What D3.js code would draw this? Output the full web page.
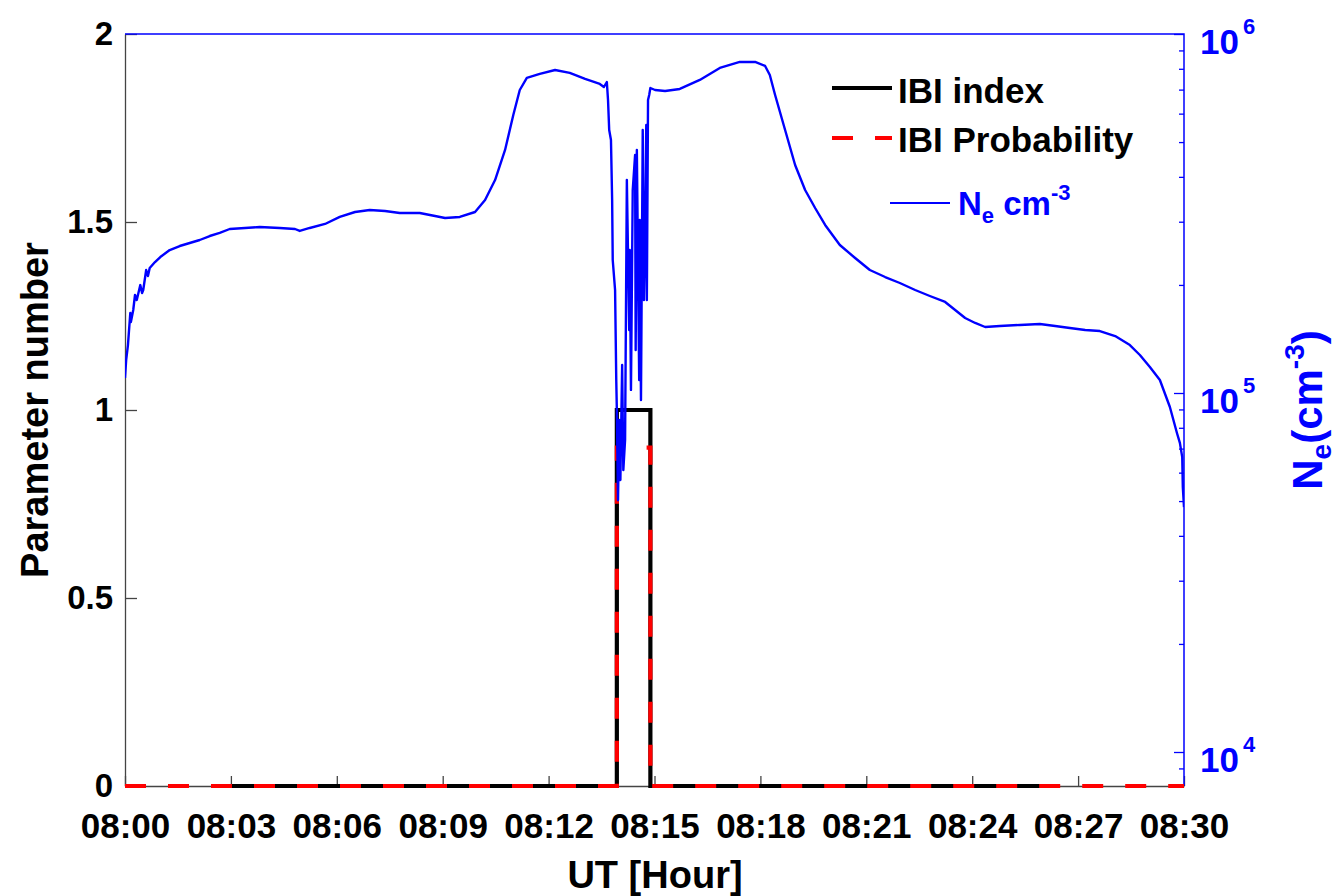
<!DOCTYPE html>
<html>
<head>
<meta charset="utf-8">
<script src="https://cdn.jsdelivr.net/npm/d3@7/dist/d3.min.js"></script>
<style>
  html, body { margin: 0; padding: 0; background: #fff; }
  svg { display: block; font-family: "Liberation Sans", Arial, sans-serif; font-weight: bold; }
</style>
</head>
<body>
<svg id="chart" width="1341" height="896"></svg>
<script>
// ---- data -------------------------------------------------------------
// time axis: seconds after 08:00 UT
const xTickLabels = ["08:00","08:03","08:06","08:09","08:12","08:15","08:18","08:21","08:24","08:27","08:30"];
const leftTicks = [0, 0.5, 1, 1.5, 2];
const rightMajorTicks = [1e4, 1e5, 1e6];

// IBI index (0/1 flag)
const ibiSeconds = [180, 836, 836, 893, 893, 1560];
const ibiValues  = [0,   0,   1,   1,   0,   0];

// IBI probability
const probSeconds = [0, 836, 836, 893, 893, 1800];
const probValues  = [0, 0,   0.9, 0.9, 0,   0];

// electron density Ne (cm^-3)
const neSeconds = [
  0, 2, 5, 9, 10, 14, 17, 20, 26, 29, 31, 36, 39, 42, 51, 60, 76, 93, 110, 127,
  144, 161, 178, 204, 229, 263, 289, 297, 314, 340, 365, 391, 416, 442, 467, 501,
  527, 544, 569, 595, 612, 629, 646, 660, 671, 683, 705, 731, 756, 782, 807, 814,
  819, 821, 823, 826, 828, 829, 833, 835, 836, 838, 840, 842, 845, 847, 850, 853,
  857, 858, 860, 863, 867, 868, 870, 874, 875, 877, 880, 882, 884, 886, 887, 889,
  891, 893, 901, 918, 943, 977, 1011, 1045, 1071, 1088, 1096, 1105, 1122, 1139,
  1156, 1173, 1190, 1215, 1241, 1266, 1292, 1317, 1343, 1368, 1394, 1411, 1428,
  1445, 1462, 1487, 1521, 1555, 1581, 1606, 1632, 1657, 1683, 1708, 1725, 1742,
  1759, 1776, 1788, 1793, 1797, 1798, 1800
];
const neValues = [
  110100, 123600, 136000, 167000, 157700, 170300, 187500, 181600, 199800, 189900,
  193600, 220100, 211800, 222900, 231600, 239200, 250200, 256700, 261700, 266800,
  273700, 279100, 286300, 288200, 290000, 288200, 286300, 282700, 288200, 295700,
  309300, 319300, 323400, 321400, 317300, 317300, 311200, 307200, 309300, 319300,
  344800, 392000, 475300, 594900, 698300, 754300, 774000, 794000, 779000, 749500,
  725700, 711800, 735000, 655000, 540400, 506800, 344800, 234700, 193600, 108700,
  89700, 50300, 84100, 57200, 119700, 61000, 74000, 392000, 149800, 250200,
  102000, 367700, 460300, 131800, 475300, 108700, 303300, 95600, 540400, 181600,
  266800, 557900, 181600, 655000, 676300, 707200, 698300, 693900, 702900, 744700,
  804300, 835800, 835800, 814700, 768900, 676300, 540400, 431700, 367700, 327600,
  293800, 258400, 237700, 220100, 210400, 202500, 193600, 186300, 179300, 170300,
  161800, 156700, 152700, 153700, 154700, 155700, 153700, 151700, 149800, 148800,
  144100, 136000, 127600, 118200, 108700, 91400, 77400, 72600, 66300, 54700, 48100
];

// ---- layout -----------------------------------------------------------
const M = { left: 125, right: 1184, top: 34, bottom: 786 };
const BLUE = "#0000ff";
const t0 = new Date(2000, 0, 1, 8, 0, 0);
const toDate = s => new Date(t0.getTime() + s * 1000);

const svg = d3.select("#chart");

const x = d3.scaleTime()
  .domain([t0, toDate(1800)])
  .range([M.left, M.right]);
const yL = d3.scaleLinear().domain([0, 2]).range([M.bottom, M.top]);
const yR = d3.scaleLog().domain([Math.pow(10, 6 - 752 / 359), 1e6]).range([M.bottom, M.top]);

// clip region keeps the full stroke width of lines lying on the zero baseline
svg.append("defs").append("clipPath").attr("id", "plotClip")
  .append("rect")
  .attr("x", M.left).attr("y", M.top - 3)
  .attr("width", M.right - M.left).attr("height", M.bottom - M.top + 7);

// ---- axes -------------------------------------------------------------
const xTicks = xTickLabels.map((_, i) => toDate(i * 180));
const gx = svg.append("g")
  .attr("transform", `translate(0,${M.bottom})`)
  .call(d3.axisBottom(x).tickValues(xTicks).tickSize(-10).tickSizeOuter(0)
    .tickPadding(27).tickFormat((d, i) => xTickLabels[i]));
gx.select(".domain").attr("stroke", "#444").attr("stroke-width", 1.3);
gx.selectAll(".tick line").attr("stroke", "#444").attr("stroke-width", 1.3);
gx.selectAll(".tick text").attr("font-size", 35).attr("fill", "#000")
  .attr("font-family", "'Liberation Sans', Arial, sans-serif").attr("font-weight", "bold");

const gl = svg.append("g")
  .attr("transform", `translate(${M.left},0)`)
  .call(d3.axisLeft(yL).tickValues(leftTicks).tickSize(-12).tickSizeOuter(0)
    .tickPadding(12).tickFormat(d => String(d)));
gl.select(".domain").attr("stroke", "#444").attr("stroke-width", 1.3);
gl.selectAll(".tick line").attr("stroke", "#444").attr("stroke-width", 1.3);
gl.selectAll(".tick text").attr("font-size", 33).attr("fill", "#000")
  .attr("font-family", "'Liberation Sans', Arial, sans-serif").attr("font-weight", "bold");

// right log axis: minor ticks then major ticks
const minorTicks = [];
for (let dec = 3; dec <= 5; dec++) {
  for (let k = 2; k <= 9; k++) {
    const v = k * Math.pow(10, dec);
    if (v >= yR.domain()[0] && v <= 1e6) minorTicks.push(v);
  }
}
const gr = svg.append("g").attr("transform", `translate(${M.right},0)`);
gr.append("g")
  .call(d3.axisRight(yR).tickValues(minorTicks).tickSize(-5).tickSizeOuter(0).tickFormat(""))
  .call(g => g.select(".domain").remove());
gr.append("g")
  .call(d3.axisRight(yR).tickValues(rightMajorTicks).tickSize(-10).tickSizeOuter(0).tickFormat(""))
  .call(g => g.select(".domain").remove());
gr.selectAll(".tick line").attr("stroke", BLUE).attr("stroke-width", 1.3);

// top border and right spine in blue
svg.append("path")
  .attr("d", `M${M.left},${M.top}H${M.right}V${M.bottom}`)
  .attr("fill", "none").attr("stroke", BLUE).attr("stroke-width", 1.5);

// right tick labels with superscript exponents
rightMajorTicks.forEach(v => {
  const t = svg.append("text")
    .attr("x", M.right + 16).attr("y", yR(v) + 20)
    .attr("fill", BLUE).attr("font-size", 35);
  t.append("tspan").text("10");
  t.append("tspan").attr("font-size", 22).attr("dx", 4).attr("dy", -20)
    .text(String(Math.round(Math.log10(v))));
});

// axis titles
svg.append("text")
  .attr("x", 655).attr("y", 888)
  .attr("text-anchor", "middle").attr("font-size", 38).attr("fill", "#000")
  .text("UT [Hour]");

svg.append("text")
  .attr("transform", `translate(48,${(M.top + M.bottom) / 2}) rotate(-90)`)
  .attr("text-anchor", "middle").attr("font-size", 38).attr("fill", "#000")
  .text("Parameter number");

const rt = svg.append("text")
  .attr("transform", `translate(1322,${(M.top + M.bottom) / 2}) rotate(-90)`)
  .attr("text-anchor", "middle").attr("font-size", 42).attr("fill", BLUE);
rt.append("tspan").text("N");
rt.append("tspan").attr("font-size", 28).attr("dy", 9).text("e");
rt.append("tspan").attr("dy", -9).text("(cm");
rt.append("tspan").attr("font-size", 28).attr("dy", -18).text("-3");
rt.append("tspan").attr("dy", 18).text(")");

// ---- series -----------------------------------------------------------
const plot = svg.append("g").attr("clip-path", "url(#plotClip)");

const ibiData = ibiSeconds.map((s, i) => ({ t: toDate(s), v: ibiValues[i] }));
const probData = probSeconds.map((s, i) => ({ t: toDate(s), v: probValues[i] }));
const neData = neSeconds.map((s, i) => ({ t: toDate(s), v: neValues[i] }));

const lineL = d3.line().x(d => x(d.t)).y(d => yL(d.v));
const lineR = d3.line().x(d => x(d.t)).y(d => yR(d.v));

plot.append("path").datum(ibiData).attr("d", lineL)
  .attr("fill", "none").attr("stroke", "#000").attr("stroke-width", 4.2);
plot.append("path").datum(probData).attr("d", lineL)
  .attr("fill", "none").attr("stroke", "#ff0000").attr("stroke-width", 4.2)
  .attr("stroke-dasharray", "21,22");
plot.append("path").datum(neData).attr("d", lineR)
  .attr("fill", "none").attr("stroke", BLUE).attr("stroke-width", 2.4)
  .attr("stroke-linejoin", "round");

// ---- legend -----------------------------------------------------------
const lg = svg.append("g");
lg.append("line").attr("x1", 832).attr("x2", 892).attr("y1", 88).attr("y2", 88)
  .attr("stroke", "#000").attr("stroke-width", 4.2);
lg.append("text").attr("x", 898).attr("y", 103).attr("font-size", 35).attr("fill", "#000")
  .text("IBI index");
lg.append("line").attr("x1", 832).attr("x2", 892).attr("y1", 138).attr("y2", 138)
  .attr("stroke", "#ff0000").attr("stroke-width", 4.2).attr("stroke-dasharray", "21,22");
lg.append("text").attr("x", 898).attr("y", 152).attr("font-size", 35).attr("fill", "#000")
  .text("IBI Probability");
lg.append("line").attr("x1", 890).attr("x2", 950).attr("y1", 203).attr("y2", 203)
  .attr("stroke", BLUE).attr("stroke-width", 2);
const lt = lg.append("text").attr("x", 958).attr("y", 215).attr("font-size", 33).attr("fill", BLUE);
lt.append("tspan").text("N");
lt.append("tspan").attr("font-size", 22).attr("dy", 8).text("e");
lt.append("tspan").attr("dy", -8).text(" cm");
lt.append("tspan").attr("font-size", 22).attr("dy", -15).text("-3");
</script>
</body>
</html>
